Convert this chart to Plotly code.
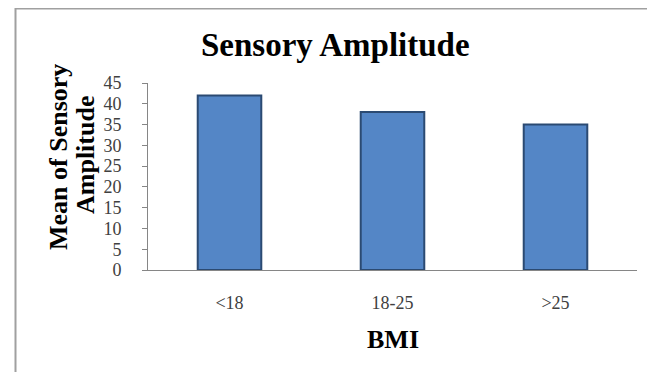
import plotly.graph_objects as go

categories = ["<18", "18-25", ">25"]
values = [42, 38, 35]
y_ticks = [0, 5, 10, 15, 20, 25, 30, 35, 40, 45]

# plot area on screen: x 148..637, y 83..270 (page body has 8px margin)
def px_x(sx):
    return (sx - 148) / 489

def px_y(sy):
    return (270 - sy) / 187

fig = go.Figure()
fig.add_trace(go.Bar(
    x=categories, y=values, width=0.39,
    marker=dict(color="#5486C6", line=dict(color="#2B4A72", width=2)),
))

serif = "Liberation Serif"
fig.update_layout(
    width=647, height=364,
    margin=dict(l=140, r=18, t=75, b=102),
    paper_bgcolor="white", plot_bgcolor="white",
    showlegend=False,
    xaxis=dict(
        showline=True, linecolor="#868686", linewidth=1,
        ticks="", showgrid=False, ticklabelstandoff=16,
        tickfont=dict(family=serif, size=18, color="#404040"),
    ),
    yaxis=dict(
        range=[0, 45], tickvals=y_ticks, showline=True, linecolor="#868686", linewidth=1,
        ticks="outside", ticklen=5, tickcolor="#868686", showgrid=False,
        ticklabelposition="outside", ticklabelstandoff=17,
        tickfont=dict(family=serif, size=18, color="#404040"),
        zeroline=False,
    ),
    shapes=[dict(type="rect", xref="paper", yref="paper",
                 x0=px_x(15.5), x1=1.2, y0=-1.0, y1=px_y(8.5),
                 line=dict(color="#A0A0A0", width=2), fillcolor="rgba(0,0,0,0)", layer="below")],
    annotations=[
        dict(text="<b>Sensory Amplitude</b>", xref="paper", yref="paper",
             x=px_x(335), y=px_y(45), xanchor="center", yanchor="middle", showarrow=False,
             font=dict(family=serif, size=33, color="black")),
        dict(text="<b>Mean of Sensory</b>", xref="paper", yref="paper",
             x=px_x(58), y=px_y(157), xanchor="center", yanchor="middle",
             textangle=-90, showarrow=False,
             font=dict(family=serif, size=26, color="black")),
        dict(text="<b>Amplitude</b>", xref="paper", yref="paper",
             x=px_x(85), y=px_y(155), xanchor="center", yanchor="middle",
             textangle=-90, showarrow=False,
             font=dict(family=serif, size=26, color="black")),
        dict(text="<b>BMI</b>", xref="paper", yref="paper",
             x=px_x(393), y=px_y(339), xanchor="center", yanchor="middle", showarrow=False,
             font=dict(family=serif, size=26, color="black")),
    ],
)

fig.write_html("out.html")
